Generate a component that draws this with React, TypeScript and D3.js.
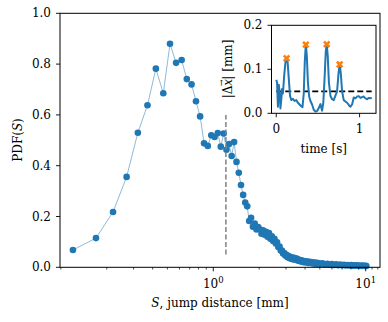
import React from "react";
import * as d3 from "d3";

// ---------- main panel data: jump-distance PDF ----------
const S_MM = [
  0.12, 0.17, 0.22, 0.27, 0.32, 0.37, 0.42, 0.47, 0.52, 0.57, 0.62, 0.67, 0.72, 0.77, 0.82, 0.87,
  0.92, 0.97, 1.02, 1.07, 1.12, 1.17, 1.22, 1.27, 1.32, 1.37, 1.42, 1.47, 1.52, 1.57, 1.62, 1.67,
  1.72, 1.77, 1.82, 1.87, 1.92, 1.97, 2.02, 2.07, 2.12, 2.17, 2.22, 2.27, 2.32, 2.37, 2.42, 2.47,
  2.52, 2.57, 2.62, 2.67, 2.72, 2.77, 2.82, 2.87, 2.92, 2.97, 3.02, 3.07, 3.12, 3.17, 3.22, 3.27,
  3.32, 3.37, 3.42, 3.47, 3.52, 3.57, 3.62, 3.67, 3.72, 3.77, 3.82, 3.87, 3.92, 4.0, 4.1, 4.2,
  4.3, 4.4, 4.5, 4.6, 4.7, 4.8, 4.9, 5.0, 5.2, 5.4, 5.6, 5.8, 6.0, 6.2, 6.4, 6.6, 6.8, 7.0, 7.2,
  7.4, 7.6, 7.8, 8.0, 8.2, 8.4, 8.6, 8.8, 9.0, 9.2, 9.4, 9.6, 9.8, 10.0, 10.1,
];
const PDF_S = [
  0.068, 0.115, 0.218, 0.356, 0.53, 0.638, 0.782, 0.685, 0.88, 0.805, 0.816, 0.741, 0.72, 0.654, 0.594, 0.488,
  0.478, 0.52, 0.513, 0.529, 0.475, 0.527, 0.463, 0.485, 0.438, 0.493, 0.415, 0.372, 0.324, 0.285, 0.255, 0.24,
  0.182, 0.195, 0.16, 0.172, 0.149, 0.158, 0.15, 0.132, 0.146, 0.128, 0.14, 0.12, 0.135, 0.112, 0.122, 0.104,
  0.112, 0.094, 0.098, 0.08, 0.082, 0.066, 0.066, 0.054, 0.056, 0.046, 0.049, 0.04, 0.044, 0.036, 0.04, 0.033,
  0.038, 0.031, 0.036, 0.03, 0.034, 0.027, 0.031, 0.025, 0.029, 0.023, 0.027, 0.021, 0.025, 0.019, 0.024, 0.017,
  0.022, 0.016, 0.02, 0.014, 0.019, 0.013, 0.017, 0.012, 0.016, 0.011, 0.014, 0.01, 0.013, 0.009, 0.012, 0.008, 0.011, 0.008, 0.01,
  0.007, 0.009, 0.007, 0.009, 0.006, 0.008, 0.006, 0.008, 0.005, 0.007, 0.005, 0.007, 0.005, 0.006, 0.005,
];
const THRESHOLD_S = 1.21;
const THRESHOLD_RANGE = [0.05, 0.6];
const Y_TICKS = [0, 0.2, 0.4, 0.6, 0.8, 1.0];
const Y_TICK_LABELS = ["0.0", "0.2", "0.4", "0.6", "0.8", "1.0"];
const X_MAJOR = [1, 10];
const X_MAJOR_EXP = ["0", "1"];
const X_MINOR = [0.1, 0.2, 0.3, 0.4, 0.5, 0.6, 0.7, 0.8, 0.9, 2, 3, 4, 5, 6, 7, 8, 9, 11, 12];

// ---------- inset data: displacement time series ----------
const TIME_S = [
  0.0, 0.01, 0.02, 0.03, 0.04, 0.05, 0.06, 0.07, 0.08, 0.095, 0.11, 0.124, 0.137, 0.15, 0.165, 0.18,
  0.2, 0.22, 0.24, 0.26, 0.28, 0.3, 0.315, 0.33, 0.343, 0.355, 0.367, 0.38, 0.395, 0.41, 0.43, 0.45,
  0.47, 0.49, 0.51, 0.53, 0.55, 0.565, 0.58, 0.594, 0.606, 0.618, 0.632, 0.65, 0.67, 0.69, 0.71, 0.73,
  0.747, 0.761, 0.775, 0.79, 0.81, 0.83, 0.85, 0.87, 0.89, 0.91, 0.93, 0.95, 0.97, 0.99, 1.01, 1.03,
  1.05, 1.07, 1.09, 1.11, 1.13, 1.145,
];
const DISP_MM = [
  0.076, 0.07, 0.015, 0.065, 0.05, 0.011, 0.03, 0.055, 0.045, 0.085, 0.115, 0.125, 0.115, 0.08, 0.04, 0.03,
  0.033, 0.028, 0.03, 0.024, 0.02, 0.016, 0.014, 0.045, 0.12, 0.156, 0.13, 0.07, 0.038, 0.028, 0.02, 0.008,
  0.004, 0.005, 0.012, 0.021, 0.006, 0.025, 0.08, 0.14, 0.157, 0.13, 0.07, 0.04, 0.032, 0.03, 0.04, 0.05,
  0.09, 0.111, 0.09, 0.05, 0.03, 0.027, 0.024, 0.019, 0.015, 0.02, 0.036, 0.034, 0.038, 0.039, 0.035, 0.037,
  0.038, 0.034, 0.032, 0.035, 0.034, 0.036,
];
const PEAK_T = [0.124, 0.355, 0.606, 0.761];
const PEAK_V = [0.125, 0.156, 0.157, 0.111];
const NOISE_LEVEL = 0.05;
const INSET_Y_TICKS = [0, 0.1, 0.2];
const INSET_Y_LABELS = ["0.0", "0.1", "0.2"];
const INSET_X_TICKS = [0, 1];
const INSET_X_LABELS = ["0", "1"];

const BLUE = "#1f77b4";
const ORANGE = "#ff7f0e";
const FONT = "'DejaVu Serif', serif";

export default function App() {
  // main axes
  const L = 60, R = 380, T = 13.3, B = 267.3;
  const x = d3.scaleLog().domain([0.0987, 12.41]).range([L, R]);
  const y = d3.scaleLinear().domain([0, 1]).range([B, T]);
  const pts = S_MM.map((s, i) => [s, PDF_S[i]] as [number, number]);
  const line = d3.line<[number, number]>().x((d) => x(d[0])).y((d) => y(d[1]));

  // inset axes
  const iL = 271.5, iR = 376, iT = 25.3, iB = 113.3;
  const ix = d3.scaleLinear().domain([-0.057, 1.197]).range([iL, iR]);
  const iy = d3.scaleLinear().domain([0, 0.2]).range([iB, iT]);
  const ipts = TIME_S.map((t, i) => [t, DISP_MM[i]] as [number, number]);
  const iline = d3.line<[number, number]>().x((d) => ix(d[0])).y((d) => iy(d[1]));
  const xMark = d3.symbol(d3.symbolCross, 34)() as string;

  return (
    <svg
      width={388}
      height={322}
      style={{ position: "absolute", left: 0, top: 0, background: "#fff" }}
      fontFamily={FONT}
      fontSize={12}
    >
      <rect x={0} y={0} width={388} height={322} fill="#fff" />
      {/* main data */}
      <path d={line(pts) || ""} fill="none" stroke={BLUE} strokeWidth={0.6} strokeOpacity={0.85} />
      {pts.map((d, i) => (
        <circle key={i} cx={x(d[0])} cy={y(d[1])} r={3.3} fill={BLUE} />
      ))}
      <line
        x1={x(THRESHOLD_S)}
        x2={x(THRESHOLD_S)}
        y1={y(THRESHOLD_RANGE[0])}
        y2={y(THRESHOLD_RANGE[1])}
        stroke="#808080"
        strokeWidth={1.5}
        strokeDasharray="5,2.5"
      />
      {/* main spines */}
      <rect x={L} y={T} width={R - L} height={B - T} fill="none" stroke="#000" strokeWidth={1} />
      {/* y ticks */}
      {Y_TICKS.map((v, i) => (
        <g key={i}>
          <line x1={L - 4} x2={L} y1={y(v)} y2={y(v)} stroke="#000" strokeWidth={0.9} />
          <text x={L - 9} y={y(v)} textAnchor="end" dominantBaseline="central">
            {Y_TICK_LABELS[i]}
          </text>
        </g>
      ))}
      {/* x ticks */}
      {X_MINOR.map((v, i) => (
        <line key={i} x1={x(v)} x2={x(v)} y1={B} y2={B + 2.2} stroke="#000" strokeWidth={0.7} />
      ))}
      {X_MAJOR.map((v, i) => (
        <g key={i}>
          <line x1={x(v)} x2={x(v)} y1={B} y2={B + 4} stroke="#000" strokeWidth={0.9} />
          <text x={x(v)} y={288} textAnchor="middle">
            10<tspan dy={-5} fontSize={8.5}>{X_MAJOR_EXP[i]}</tspan>
          </text>
        </g>
      ))}
      <text x={220} y={306.5} textAnchor="middle">
        <tspan fontStyle="italic">S</tspan>, jump distance [mm]
      </text>
      <text transform="translate(22,140) rotate(-90)" textAnchor="middle">
        PDF(<tspan fontStyle="italic">S</tspan>)
      </text>

      {/* inset */}
      <rect x={iL} y={iT} width={iR - iL} height={iB - iT} fill="#fff" />
      <line x1={ix(0)} x2={ix(1.145)} y1={iy(NOISE_LEVEL)} y2={iy(NOISE_LEVEL)} stroke="#000" strokeWidth={1.8} strokeDasharray="6,3" />
      <path d={iline(ipts) || ""} fill="none" stroke={BLUE} strokeWidth={2} strokeLinejoin="round" />
      {PEAK_T.map((t, i) => (
        <path key={i} d={xMark} transform={`translate(${ix(t)},${iy(PEAK_V[i])}) rotate(45)`} fill={ORANGE} />
      ))}
      <rect x={iL} y={iT} width={iR - iL} height={iB - iT} fill="none" stroke="#000" strokeWidth={1} />
      {INSET_Y_TICKS.map((v, i) => (
        <g key={i}>
          <line x1={iL - 4} x2={iL} y1={iy(v)} y2={iy(v)} stroke="#000" strokeWidth={0.9} />
          <text x={iL - 9} y={iy(v)} textAnchor="end" dominantBaseline="central">
            {INSET_Y_LABELS[i]}
          </text>
        </g>
      ))}
      {INSET_X_TICKS.map((v, i) => (
        <g key={i}>
          <line x1={ix(v)} x2={ix(v)} y1={iB} y2={iB + 4} stroke="#000" strokeWidth={0.9} />
          <text x={ix(v)} y={133.3} textAnchor="middle">
            {INSET_X_LABELS[i]}
          </text>
        </g>
      ))}
      <text x={(iL + iR) / 2} y={152.5} textAnchor="middle">
        time [s]
      </text>
      <text transform="translate(232,69) rotate(-90)" textAnchor="middle">
        |Δ<tspan fontStyle="italic">x</tspan>
        <tspan dx={-7.5} dy={-8} fontSize={8}>→</tspan>
        <tspan dx={0} dy={8}>| [mm]</tspan>
      </text>
    </svg>
  );
}
